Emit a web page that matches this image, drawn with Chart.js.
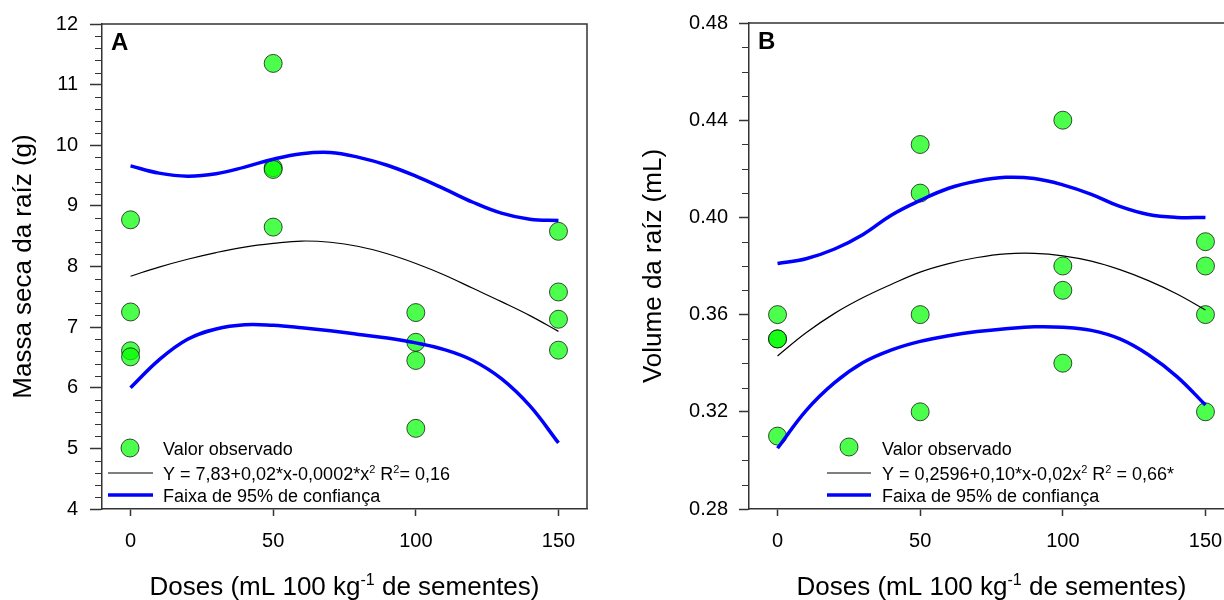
<!DOCTYPE html>
<html><head><meta charset="utf-8">
<script src="https://cdn.jsdelivr.net/npm/chart.js@4.4.1/dist/chart.umd.min.js"></script>
<style>
html,body{margin:0;padding:0;background:#fff;overflow:hidden;width:1224px;height:600px;}
#wa{position:absolute;left:0;top:0;width:612px;height:600px;}
#wb{position:absolute;left:612px;top:0;width:640px;height:600px;}
</style></head><body>
<div id="wa"><canvas id="ca"></canvas></div>
<div id="wb"><canvas id="cb"></canvas></div>
<script>
// ---- data ----
const doseTicks = [0, 50, 100, 150];
const obsDoseA = [0,0,0,0, 50,50,50,50, 100,100,100,100, 150,150,150,150];
const obsMassaA = [8.77,7.25,6.61,6.51, 11.35,9.63,9.60,8.65, 7.24,6.75,6.45,5.33, 8.58,7.58,7.13,6.62];
const obsDoseB = [0,0,0,0, 50,50,50,50, 100,100,100,100, 150,150,150,150];
const obsVolumeB = [0.36,0.35,0.35,0.31, 0.43,0.41,0.36,0.32, 0.44,0.38,0.37,0.34, 0.39,0.38,0.36,0.32];
const curveDose = [0,10,20,30,40,50,60,70,80,90,100,110,120,130,140,150];
const fitA   = [7.84,7.99,8.12,8.23,8.32,8.38,8.42,8.40,8.33,8.21,8.05,7.86,7.64,7.42,7.19,6.93];
const upperA = [9.66,9.54,9.49,9.53,9.64,9.77,9.86,9.88,9.80,9.67,9.49,9.28,9.06,8.88,8.78,8.76];
const lowerA = [6.00,6.46,6.80,6.97,7.04,7.03,6.99,6.94,6.88,6.82,6.74,6.63,6.45,6.15,5.70,5.09];
const fitB   = [0.343,0.3525,0.3605,0.367,0.3725,0.3775,0.381,0.3835,0.385,0.3852,0.3842,0.382,0.3785,0.374,0.3685,0.3619];
const upperB = [0.381,0.383,0.387,0.393,0.401,0.407,0.412,0.415,0.4165,0.416,0.4134,0.4095,0.4045,0.4012,0.400,0.400];
const lowerB = [0.305,0.3205,0.332,0.3403,0.3455,0.349,0.3513,0.353,0.3542,0.355,0.3548,0.3535,0.350,0.3435,0.3345,0.3228];
const yTicksA = [4,5,6,7,8,9,10,11,12];
const yTicksB = [0.28,0.32,0.36,0.40,0.44,0.48];
const legendObs = 'Valor observado';
const legendBand = 'Faixa de 95% de confiança';
const eqA = [['Y = 7,83+0,02*x-0,0002*x'],['2',1],[' R'],['2',1],['= 0,16']];
const eqB = [['Y = 0,2596+0,10*x-0,02x'],['2',1],[' R'],['2',1],[' = 0,66*']];
const xTitle = [['Doses (mL 100 kg'],['-1',1],[' de sementes)']];

const FONT = '"Liberation Sans", Arial, Helvetica, sans-serif';
const PT_FILL = 'rgba(0,255,0,0.7)';
const PT_EDGE = 'rgba(0,0,0,0.7)';
const AX = '#333';

function pts(xs, ys){ return xs.map((x,i)=>({x:x, y:ys[i]})); }

function drawRich(ctx, parts, x, y, size, align){
  const widths = parts.map(([t,s])=>{ ctx.font=(s?Math.round(size*0.62):size)+'px '+FONT; return ctx.measureText(t).width; });
  const total = widths.reduce((a,b)=>a+b,0);
  let cx = align==='center' ? x - total/2 : x;
  ctx.textBaseline='alphabetic'; ctx.textAlign='left'; ctx.fillStyle='#000';
  parts.forEach(([t,s],i)=>{
    ctx.font=(s?Math.round(size*0.62):size)+'px '+FONT;
    ctx.fillText(t, cx, s ? y - size*0.4 : y);
    cx += widths[i];
  });
}

function makeChart(id, cfg){
  const deco = {
    id:'deco',
    afterDraw(chart){
      const ctx = chart.ctx, a = chart.chartArea, ys = chart.scales.y;
      ctx.save();
      ctx.strokeStyle=AX; ctx.lineWidth=1.5;
      ctx.beginPath(); ctx.moveTo(a.left, a.top); ctx.lineTo(a.right, a.top); ctx.lineTo(a.right, a.bottom); ctx.stroke();
      ctx.lineWidth=1;
      const n = Math.round((cfg.yMax-cfg.yMin)/cfg.minor);
      for(let i=0;i<=n;i++){
        const v = cfg.yMin + i*cfg.minor;
        if (i % cfg.minorPerMajor === 0) continue;
        const py = Math.round(ys.getPixelForValue(v))+0.5;
        ctx.beginPath(); ctx.moveTo(a.left-7, py); ctx.lineTo(a.left, py); ctx.stroke();
      }
      ctx.fillStyle='#000'; ctx.font='bold 24px '+FONT; ctx.textBaseline='alphabetic'; ctx.textAlign='left';
      ctx.fillText(cfg.letter, a.left+9, a.top+26);
      const L = cfg.leg;
      ctx.beginPath(); ctx.arc(a.left+L.mx, a.bottom+L.my, 9, 0, Math.PI*2);
      ctx.fillStyle=PT_FILL; ctx.fill(); ctx.strokeStyle=PT_EDGE; ctx.lineWidth=1; ctx.stroke();
      ctx.strokeStyle='#000'; ctx.lineWidth=1;
      ctx.beginPath(); ctx.moveTo(a.left+L.l0, a.bottom-36); ctx.lineTo(a.left+L.l1, a.bottom-36); ctx.stroke();
      ctx.strokeStyle='#0000ff'; ctx.lineWidth=3.5;
      ctx.beginPath(); ctx.moveTo(a.left+L.l0, a.bottom-14); ctx.lineTo(a.left+L.l1, a.bottom-14); ctx.stroke();
      drawRich(ctx, [[legendObs]], a.left+L.tx, a.bottom-54, 18);
      drawRich(ctx, cfg.eq, a.left+L.tx, a.bottom-29, 18);
      drawRich(ctx, [[legendBand]], a.left+L.tx, a.bottom-7, 18);
      drawRich(ctx, xTitle, (a.left+a.right)/2, 595, 26, 'center');
      ctx.restore();
    }
  };
  return new Chart(document.getElementById(id), {
    type:'scatter',
    data:{ datasets:[
      {label:'upper', data:pts(curveDose,cfg.upper), showLine:true, pointRadius:0, borderColor:'#0000ff', borderWidth:3.5, tension:0.4, fill:false},
      {label:'lower', data:pts(curveDose,cfg.lower), showLine:true, pointRadius:0, borderColor:'#0000ff', borderWidth:3.5, tension:0.4, fill:false},
      {label:'fit', data:pts(curveDose,cfg.fit), showLine:true, pointRadius:0, borderColor:'#000', borderWidth:1.2, tension:0.4, fill:false},
      {label:'obs', data:pts(cfg.obsX,cfg.obsY), pointRadius:9, pointBackgroundColor:PT_FILL, pointBorderColor:PT_EDGE, pointBorderWidth:1}
    ]},
    options:{
      responsive:true, maintainAspectRatio:false, animation:false, devicePixelRatio:1,
      layout:{padding:{top:23, right:cfg.padRight, left:0, bottom:0}},
      plugins:{legend:{display:false}, tooltip:{enabled:false}},
      scales:{
        x:{ type:'linear', min:-10, max:160,
          afterBuildTicks:s=>{ s.ticks = doseTicks.map(v=>({value:v})); },
          afterFit:s=>{ s.height = 91; },
          grid:{drawOnChartArea:false, drawTicks:true, tickLength:7, tickColor:AX, tickWidth:1.5},
          border:{display:true, color:AX, width:1.5},
          ticks:{font:{size:20, family:FONT}, color:'#000', padding:13, maxRotation:0}
        },
        y:{ type:'linear', min:cfg.yMin, max:cfg.yMax,
          afterBuildTicks:s=>{ s.ticks = cfg.yTicks.map(v=>({value:v})); },
          afterFit:s=>{ s.width = cfg.yWidth; },
          grid:{drawOnChartArea:false, drawTicks:true, tickLength:cfg.tickLen, tickColor:AX, tickWidth:1.5},
          border:{display:true, color:AX, width:1.5},
          ticks:{font:{size:20, family:FONT}, color:'#000', padding:cfg.tickPad, callback:v=>cfg.fmt(v)},
          title:{display:true, text:cfg.yTitle, font:{size:26, family:FONT}, color:'#000', padding:{top:cfg.titlePad, bottom:0}}
        }
      }
    },
    plugins:[deco]
  });
}

makeChart('ca', {
  obsX:obsDoseA, obsY:obsMassaA, fit:fitA, upper:upperA, lower:lowerA,
  yMin:4, yMax:12, yTicks:yTicksA, minor:0.2, minorPerMajor:5, fmt:v=>String(Math.round(v)),
  yWidth:102, padRight:25, tickLen:12, tickPad:12, titlePad:8,
  yTitle:'Massa seca da raíz (g)', letter:'A', eq:eqA,
  leg:{mx:28, my:-61, l0:6, l1:51, tx:61}
});
makeChart('cb', {
  obsX:obsDoseB, obsY:obsVolumeB, fit:fitB, upper:upperB, lower:lowerB,
  yMin:0.28, yMax:0.48, yTicks:yTicksB, minor:0.01, minorPerMajor:4, fmt:v=>v.toFixed(2),
  yWidth:137, padRight:18, tickLen:10, tickPad:11, titlePad:26,
  yTitle:'Volume da raíz (mL)', letter:'B', eq:eqB,
  leg:{mx:100, my:-62, l0:78, l1:122, tx:133}
});
</script>
</body></html>
